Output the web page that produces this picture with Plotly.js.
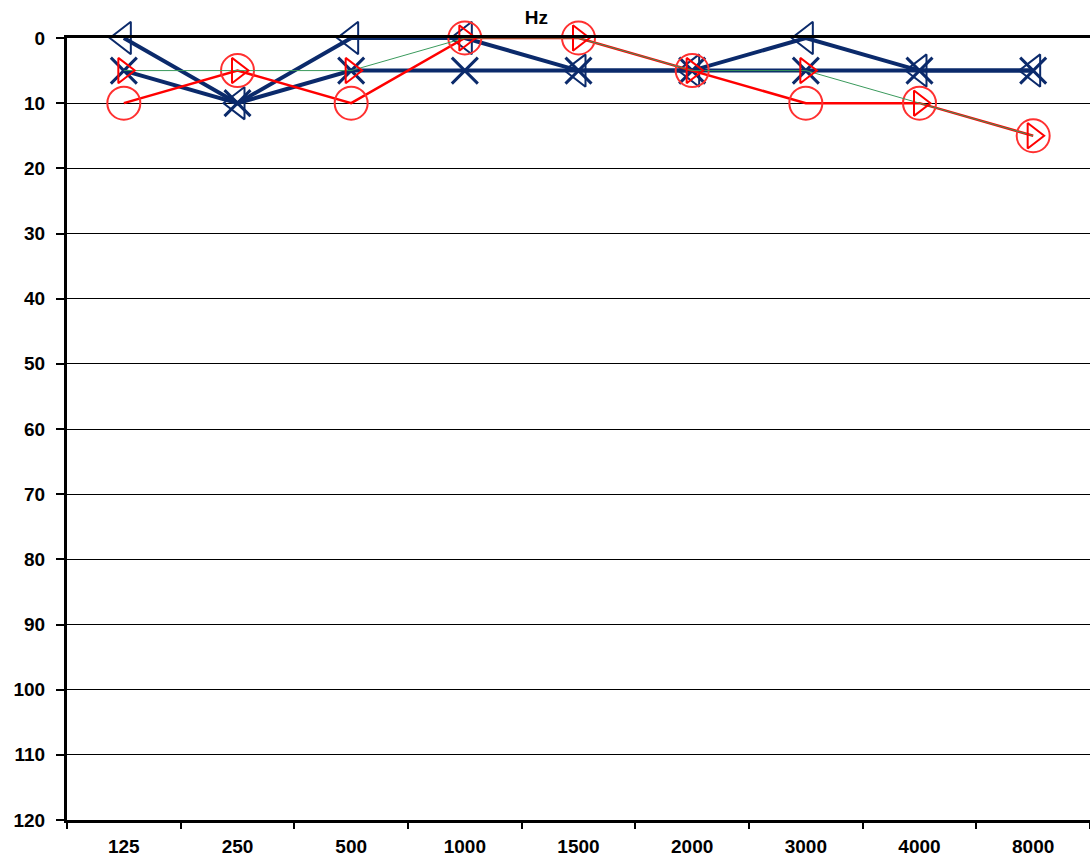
<!DOCTYPE html>
<html>
<head>
<meta charset="utf-8">
<script src="https://cdn.plot.ly/plotly-3.0.1.min.js"></script>
<style>html,body{margin:0;padding:0;background:#fff;}#chart{width:1090px;height:859px;}</style>
</head>
<body>
<div id="chart"></div>
<script>
const freqs = ['125','250','500','1000','1500','2000','3000','4000','8000'];
const rightAir  = [10, 5, 10, 0, 0, 5, 10, 10, 15];   // red circles
const rightBone = [5, 5, 5, 0, 0, 5, 5, 10, 15];      // red right triangles (green line)
const leftAir   = [5, 10, 5, 5, 5, 5, 5, 5, 5];       // navy X
const leftBone  = [0, 10, 0, 0, 5, 5, 0, 5, 5];       // navy left triangles
const yTicks = [0,10,20,30,40,50,60,70,80,90,100,110,120];

const navy = '#0b2a6b';
const red = '#ff0000';
const green = '#3a9a5c';

const traces = [
  {x: freqs, y: leftAir, type: 'scatter', mode: 'lines+markers', name: 'L air', cliponaxis: false,
   line: {color: navy, width: 4},
   marker: {symbol: 'x-thin-open', size: 26, color: navy, line: {color: navy, width: 3}}},
  {x: freqs, y: leftBone, type: 'scatter', mode: 'lines+markers', name: 'L bone', cliponaxis: false,
   line: {color: navy, width: 4},
   marker: {symbol: 'triangle-left-open', size: 28, color: navy, line: {color: navy, width: 2}}},
  {x: freqs, y: rightAir, type: 'scatter', mode: 'lines+markers', name: 'R air', cliponaxis: false,
   line: {color: red, width: 2.5},
   marker: {symbol: 'circle-open', size: 33, color: '#ff3030', line: {color: '#ff3030', width: 2}}},
  {x: freqs, y: rightBone, type: 'scatter', mode: 'lines+markers', name: 'R bone', cliponaxis: false,
   line: {color: green, width: 1},
   marker: {symbol: 'triangle-right-open', size: 22, color: red, line: {color: red, width: 2}}}
];

const layout = {
  width: 1090, height: 859,
  margin: {l: 67, r: 0, t: 38, b: 39},
  paper_bgcolor: '#fff', plot_bgcolor: '#fff',
  showlegend: false,
  title: {text: '<b>Hz</b>', font: {family: 'Liberation Sans, Arial, sans-serif', size: 19, color: '#000'},
          xref: 'container', x: 0.492, xanchor: 'center', yref: 'container', y: 0.98, yanchor: 'middle'},
  xaxis: {
    type: 'category', categoryorder: 'array', categoryarray: freqs,
    range: [-0.5, 8.5],
    showline: true, linecolor: '#000', linewidth: 3, mirror: true,
    showgrid: false, zeroline: false,
    ticks: 'outside', tickson: 'boundaries', ticklen: 6, tickwidth: 2, tickcolor: '#000',
    tickfont: {family: 'Liberation Sans, Arial, sans-serif', size: 19, color: '#000', weight: 'bold'},
    ticklabelstandoff: 7
  },
  yaxis: {
    range: [120, 0], tickvals: yTicks, ticktext: yTicks.map(String),
    showline: true, linecolor: '#000', linewidth: 3,
    showgrid: true, gridcolor: '#000', gridwidth: 1, zeroline: false,
    ticks: 'outside', ticklen: 8, tickwidth: 2, tickcolor: '#000',
    tickfont: {family: 'Liberation Sans, Arial, sans-serif', size: 19, color: '#000', weight: 'bold'},
    ticklabelstandoff: 7
  }
};

Plotly.newPlot('chart', traces, layout, {displayModeBar: false, staticPlot: true});
</script>
</body>
</html>
